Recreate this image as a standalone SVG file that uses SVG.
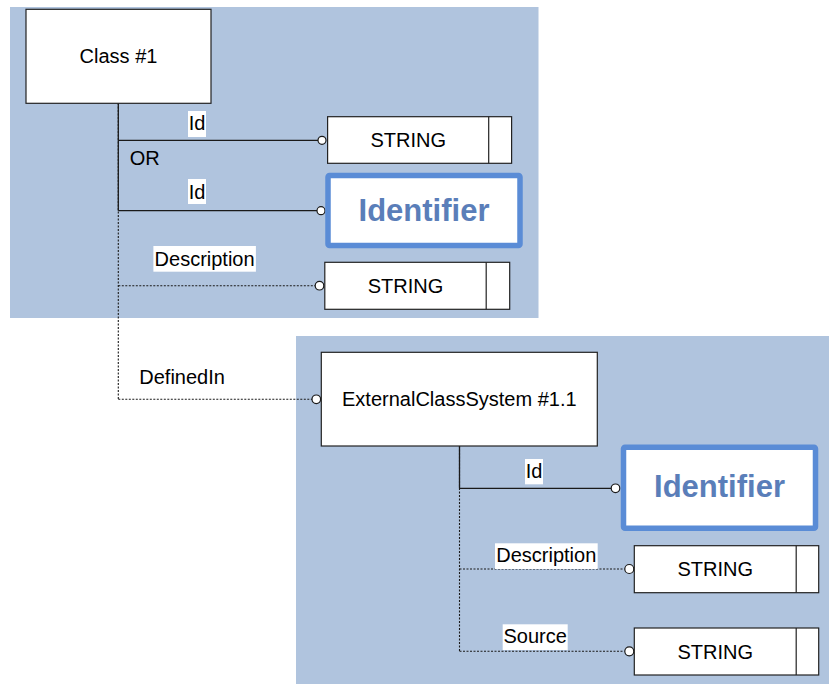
<svg xmlns="http://www.w3.org/2000/svg" width="829" height="684" viewBox="0 0 829 684">
<style>
text{font-family:"Liberation Sans",Arial,sans-serif;font-size:20px;fill:#000}
.panel{fill:#B0C4DE}
.box{fill:#fff;stroke:#222;stroke-width:1.2}
.ident{fill:#fff;stroke:#5A8CD6;stroke-width:5.5}
.itxt{font-size:31px;font-weight:bold;fill:#5A7EB9}
.solid{stroke:#1a1a1a;stroke-width:1.3;fill:none}
.dot{stroke:#1a1a1a;stroke-width:1.1;fill:none;stroke-dasharray:2 1.5}
.end{fill:#fff;stroke:#1a1a1a;stroke-width:1.2}
.lbg{fill:#fff}
</style>
<rect class="panel" x="10" y="7" width="528.5" height="311"/>
<rect class="panel" x="296" y="336" width="533" height="348"/>

<g id="connectors">
<line class="solid" x1="118.3" y1="103" x2="118.3" y2="210.7"/>
<line class="dot" x1="118.3" y1="103" x2="118.3" y2="399.3"/>
<line class="solid" x1="118.3" y1="140.3" x2="318" y2="140.3"/>
<circle class="end" cx="322" cy="140.3" r="4"/>
<line class="solid" x1="118.3" y1="210.7" x2="317" y2="210.7"/>
<circle class="end" cx="321" cy="210.7" r="4"/>
<line class="dot" x1="118.3" y1="285.7" x2="315" y2="285.7"/>
<circle class="end" cx="319.5" cy="285.7" r="4.3"/>
<line class="dot" x1="118.3" y1="399.3" x2="312" y2="399.3"/>
<circle class="end" cx="316.3" cy="399.3" r="4.3"/>
<line class="solid" x1="459.5" y1="446" x2="459.5" y2="488.3"/>
<line class="dot" x1="459.5" y1="446" x2="459.5" y2="651.3"/>
<line class="solid" x1="459.5" y1="488.3" x2="611" y2="488.3"/>
<circle class="end" cx="615.5" cy="488.3" r="4.3"/>
<line class="dot" x1="459.5" y1="569" x2="624.5" y2="569"/>
<circle class="end" cx="629.3" cy="569" r="4.5"/>
<line class="dot" x1="459.5" y1="651.3" x2="624.5" y2="651.3"/>
<circle class="end" cx="629.3" cy="651.3" r="4.5"/>
<rect class="lbg" x="188" y="111" width="18" height="26"/>
<text x="197" y="130" text-anchor="middle">Id</text>
<text x="129.7" y="165">OR</text>
<rect class="lbg" x="188" y="179" width="18" height="25"/>
<text x="197" y="198.5" text-anchor="middle">Id</text>
<rect class="lbg" x="153.4" y="246" width="102.5" height="25.7"/>
<text x="204.6" y="265.5" text-anchor="middle">Description</text>
<text x="139.3" y="384">DefinedIn</text>
<rect class="lbg" x="525" y="459" width="18" height="25.3"/>
<text x="534" y="478" text-anchor="middle">Id</text>
<rect class="lbg" x="495" y="543.3" width="102.7" height="25.7"/>
<text x="546.3" y="562.3" text-anchor="middle">Description</text>
<rect class="lbg" x="502.7" y="624.3" width="65" height="25.7"/>
<text x="535.2" y="642.7" text-anchor="middle">Source</text>
</g>

<g id="class1">
<rect class="box" x="26" y="9.3" width="185" height="94"/>
<text x="118.5" y="63.3" text-anchor="middle">Class #1</text>
</g>
<g id="string1">
<rect class="box" x="327.6" y="116.7" width="184" height="46.6"/>
<line class="box" x1="488.7" y1="116.7" x2="488.7" y2="163.3"/>
<text x="408.2" y="147.3" text-anchor="middle">STRING</text>
</g>
<g id="identifier1">
<rect class="ident" x="328" y="175.5" width="192" height="70" rx="1.5"/>
<text class="itxt" x="424" y="220.5" text-anchor="middle">Identifier</text>
</g>
<g id="string2">
<rect class="box" x="324.8" y="262.3" width="184.9" height="47"/>
<line class="box" x1="486.2" y1="262.3" x2="486.2" y2="309.3"/>
<text x="405.5" y="292.8" text-anchor="middle">STRING</text>
</g>
<g id="ecs">
<rect class="box" x="321.3" y="352.3" width="276" height="93.7"/>
<text x="459.3" y="406" text-anchor="middle">ExternalClassSystem #1.1</text>
</g>
<g id="identifier2">
<rect class="ident" x="623.5" y="447.2" width="192" height="81" rx="1.5"/>
<text class="itxt" x="719.5" y="497" text-anchor="middle">Identifier</text>
</g>
<g id="string3">
<rect class="box" x="634.3" y="545.7" width="184.4" height="47"/>
<line class="box" x1="796.2" y1="545.7" x2="796.2" y2="592.7"/>
<text x="715.2" y="576.2" text-anchor="middle">STRING</text>
</g>
<g id="string4">
<rect class="box" x="634.3" y="628" width="184.4" height="47"/>
<line class="box" x1="796.2" y1="628" x2="796.2" y2="675"/>
<text x="715.2" y="658.5" text-anchor="middle">STRING</text>
</g>
</svg>
